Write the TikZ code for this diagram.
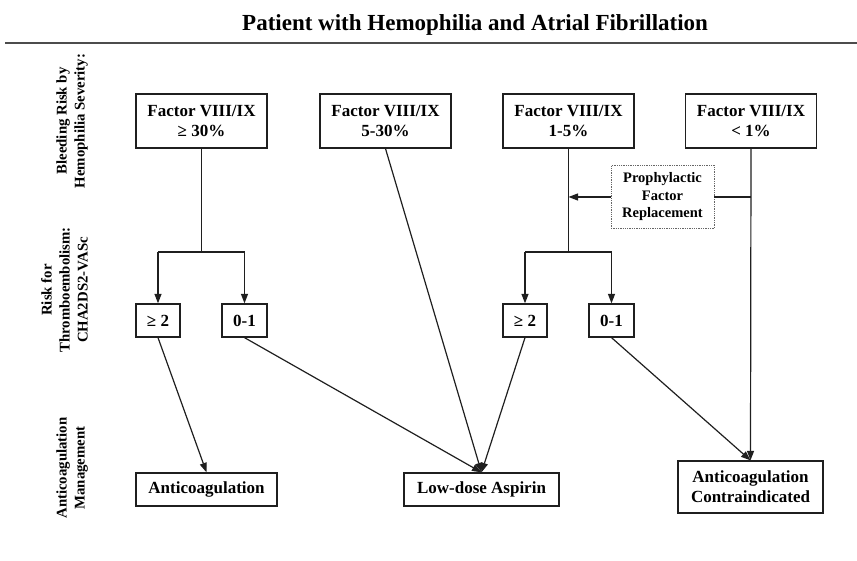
\documentclass[tikz,border=0pt]{standalone}
\usepackage{fontspec}
\setmainfont{Liberation Serif}
\usetikzlibrary{arrows.meta}
\begin{document}
\begin{tikzpicture}[x=1pt,y=1pt,
  box/.style={draw=black!88, line width=1.3pt, fill=white, align=center, inner sep=0pt,
    font=\fontsize{17}{20}\selectfont\bfseries},
  conn/.style={draw=black!88, line width=1.2pt},
  arr/.style={conn, -{Triangle[length=9.5pt,width=7pt]}},
  side/.style={rotate=90, anchor=south, align=center, inner sep=0pt,
    font=\fontsize{14.8}{18}\selectfont\bfseries}]
\useasboundingbox (0,0) rectangle (857,561);
\node[anchor=base west, inner sep=0pt, font=\fontsize{23}{26}\selectfont\bfseries] (title) at (242,530) {Patient with Hemophilia and Atrial Fibrillation};
\coordinate (rl) at (5,518);
\coordinate (rr) at (857,518);
\draw[line width=1.7pt, black!70] (rl) -- (rr);
% side labels
\node[side] (l1) at (88,440) {Bleeding Risk by\\Hemophilia Severity:};
\node[side] (l2) at (88,271) {Risk for\\Thromboembolism:\\CHA2DS2-VASc};
\node[side] (l3) at (88,93) {Anticoagulation\\Management};
% top boxes
\node[box, minimum width=131, minimum height=54] (f1) at (201.5,440) {Factor VIII/IX\\≥ 30\%};
\node[box, minimum width=131, minimum height=54] (f2) at (385.5,440) {Factor VIII/IX\\5-30\%};
\node[box, minimum width=131, minimum height=54] (f3) at (568.5,440) {Factor VIII/IX\\1-5\%};
\node[box, minimum width=131, minimum height=54] (f4) at (751,440) {Factor VIII/IX\\< 1\%};
% small boxes
\node[box, minimum width=44, minimum height=33] (a2) at (158,240.5) {≥ 2};
\node[box, minimum width=45, minimum height=33] (a01) at (244.5,240.5) {0-1};
\node[box, minimum width=44, minimum height=33] (b2) at (525,240.5) {≥ 2};
\node[box, minimum width=45, minimum height=33] (b01) at (611.5,240.5) {0-1};
% bottom boxes
\node[box, minimum width=141, minimum height=33] (anti) at (206.5,71.5) {Anticoagulation};
\node[box, minimum width=155, minimum height=33] (asp) at (481.5,71.5) {Low-dose Aspirin};
\node[box, minimum width=145, minimum height=52] (contra) at (750.5,74) {Anticoagulation\\Contraindicated};
% prophylactic
\node[box, draw=black!60, densely dotted, line width=0.8pt, minimum width=103, minimum height=63,
  font=\fontsize{14.5}{17.5}\selectfont\bfseries] (pro) at (662.5,364) {Prophylactic\\Factor\\Replacement};
% group 1 tree
\coordinate (t1) at (201.5,309);
\coordinate (t1l) at (158,309);
\coordinate (t1r) at (244.5,309);
\draw[conn] (f1.south) -- (t1);
\draw[conn] (t1l) -- (t1r);
\draw[arr] (t1l) -- (a2.north);
\draw[arr] (t1r) -- (a01.north);
% group 2 tree
\coordinate (t2) at (568.5,309);
\coordinate (t2l) at (525,309);
\coordinate (t2r) at (611.5,309);
\draw[conn] (f3.south) -- (t2);
\draw[conn] (t2l) -- (t2r);
\draw[arr] (t2l) -- (b2.north);
\draw[arr] (t2r) -- (b01.north);
% to management
\draw[arr] (a2.south) -- (anti.north);
\draw[arr] (a01.south) -- (asp.north);
\draw[arr] (f2.south) -- (asp.north);
\draw[arr] (b2.south) -- (asp.north);
\draw[arr] (b01.south) -- (contra.north);
\draw[arr] (f4.south) -- (contra.north);
% prophylactic links
\coordinate (p4) at (751,364);
\coordinate (p3) at (568.5,364);
\draw[conn] (p4) -- (pro.east);
\draw[arr] (pro.west) -- (p3);
\end{tikzpicture}
\end{document}
